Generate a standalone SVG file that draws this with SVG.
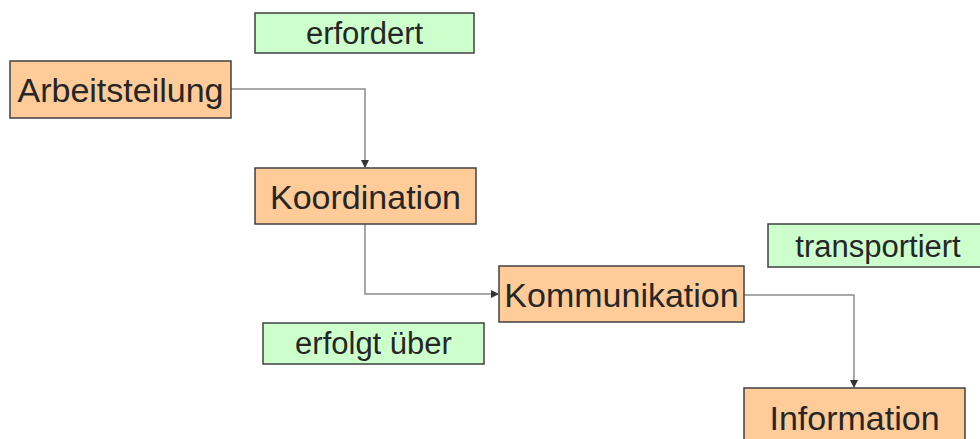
<svg xmlns="http://www.w3.org/2000/svg" width="980" height="439" viewBox="0 0 980 439">
  <style>
    .node rect { fill: #FFCC99; stroke: #404040; stroke-width: 1.5; }
    .label rect { fill: #CCFFCC; stroke: #404040; stroke-width: 1.5; }
    .node text { font-family: "Liberation Sans", Arial, sans-serif; font-size: 34px; fill: #262626; text-anchor: middle; }
    .label text { font-family: "Liberation Sans", Arial, sans-serif; font-size: 31px; fill: #262626; text-anchor: middle; }
    .conn path { fill: none; stroke: #8c8c8c; stroke-width: 1.5; }
  </style>
  <defs>
    <marker id="arrow" markerWidth="8" markerHeight="8" refX="7" refY="4" orient="auto" markerUnits="userSpaceOnUse">
      <path d="M0,0 L8,4 L0,8 Z" fill="#333333"/>
    </marker>
  </defs>
  <rect width="980" height="439" fill="#ffffff"/>

  <!-- connectors -->
  <g id="connectors" class="conn">
    <path d="M231,89 H365 V167" marker-end="url(#arrow)"/>
    <path d="M365,224 V294 H498" marker-end="url(#arrow)"/>
    <path d="M744,295 H854 V387" marker-end="url(#arrow)"/>
  </g>

  <!-- relation labels -->
  <g id="label-erfordert" class="label">
    <rect x="255" y="13" width="219" height="40"/>
    <text x="364.5" y="44">erfordert</text>
  </g>
  <g id="label-erfolgt-ueber" class="label">
    <rect x="263" y="323" width="221" height="41"/>
    <text x="373.5" y="354">erfolgt über</text>
  </g>
  <g id="label-transportiert" class="label">
    <rect x="768" y="224" width="220" height="43"/>
    <text x="878" y="257">transportiert</text>
  </g>

  <!-- concept nodes -->
  <g id="node-arbeitsteilung" class="node">
    <rect x="10" y="61" width="221" height="57"/>
    <text x="120.5" y="102">Arbeitsteilung</text>
  </g>
  <g id="node-koordination" class="node">
    <rect x="255" y="168" width="221" height="56"/>
    <text x="365.5" y="209">Koordination</text>
  </g>
  <g id="node-kommunikation" class="node">
    <rect x="499" y="266" width="245" height="56"/>
    <text x="621.5" y="307">Kommunikation</text>
  </g>
  <g id="node-information" class="node">
    <rect x="744" y="388" width="221" height="60"/>
    <text x="854.5" y="430">Information</text>
  </g>
</svg>
